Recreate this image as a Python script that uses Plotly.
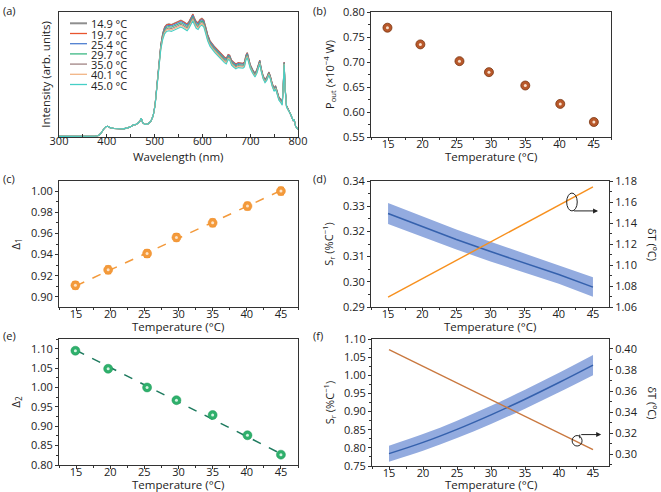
import plotly.graph_objects as go

# ---------------- data ----------------
# (a) emission spectra
wavelength = [300, 320, 340, 360, 375, 383, 388, 393, 398, 402, 407, 415, 425, 435, 445, 452, 456, 460, 465, 469,
              472, 475, 480, 486, 492, 497, 501, 505, 509, 513, 517, 521, 525, 530, 535, 540, 545, 550, 555, 560,
              565, 568, 572, 576, 580, 583, 587, 591, 595, 599, 603, 607, 611, 616, 621, 626, 631, 636, 641, 646,
              650, 654, 657, 661, 665, 670, 675, 680, 685, 688, 691, 694, 697, 700, 705, 710, 714, 717, 720, 723,
              727, 731, 735, 739, 742, 746, 750, 753, 756, 760, 764, 767, 769, 771, 773, 776, 780, 785, 790, 792,
              795, 800]
UV_REGION = [0.005, 0.005, 0.005, 0.005, 0.006, 0.012, 0.030, 0.060, 0.082, 0.086, 0.075, 0.068, 0.064, 0.065,
             0.075, 0.085, 0.100, 0.098, 0.110, 0.125, 0.150, 0.115, 0.100, 0.105, 0.125, 0.170]
NIR_TAIL = [0.180, 0.130, 0.140, 0.085, 0.060]

I_14_9 = UV_REGION + [0.260, 0.420, 0.600, 0.740, 0.830,
                      0.880, 0.900, 0.905, 0.900, 0.910, 0.920, 0.930, 0.935, 0.925, 0.910, 0.905, 0.925, 0.950, 0.985, 0.955, 0.925, 0.915, 0.940, 0.950, 0.935, 0.880,
                      0.820,
                      0.770, 0.740, 0.720, 0.700, 0.680, 0.655, 0.640, 0.630,
                      0.660, 0.655, 0.615, 0.600, 0.585, 0.595, 0.595, 0.590, 0.600, 0.655, 0.675, 0.620,
                      0.580, 0.540, 0.510, 0.540, 0.580, 0.615,
                      0.550, 0.490, 0.460, 0.480, 0.520, 0.490, 0.430, 0.390, 0.410, 0.370, 0.320, 0.300, 0.280,
                      0.400, 0.600, 0.400,
                      0.250, 0.220] + NIR_TAIL
I_19_7 = UV_REGION + [0.259, 0.419, 0.598, 0.738, 0.827,
                      0.877, 0.897, 0.902, 0.897, 0.907, 0.917, 0.927, 0.932, 0.922, 0.907, 0.902, 0.922, 0.947, 0.982, 0.952, 0.922, 0.912, 0.937, 0.947, 0.932, 0.877,
                      0.817,
                      0.768, 0.738, 0.718, 0.698, 0.678, 0.653, 0.638, 0.628,
                      0.658, 0.653, 0.613, 0.598, 0.583, 0.593, 0.593, 0.588, 0.598, 0.653, 0.673, 0.618,
                      0.578, 0.538, 0.508, 0.538, 0.578, 0.613,
                      0.549, 0.489, 0.459, 0.479, 0.519, 0.489, 0.429, 0.389, 0.409, 0.369, 0.319, 0.299, 0.279,
                      0.399, 0.599, 0.399,
                      0.249, 0.219] + NIR_TAIL
I_25_4 = UV_REGION + [0.258, 0.416, 0.594, 0.732, 0.820,
                      0.869, 0.889, 0.894, 0.889, 0.899, 0.909, 0.919, 0.924, 0.914, 0.899, 0.894, 0.914, 0.939, 0.974, 0.944, 0.914, 0.904, 0.929, 0.939, 0.924, 0.869,
                      0.810,
                      0.761, 0.731, 0.711, 0.691, 0.671, 0.646, 0.631, 0.621,
                      0.652, 0.647, 0.607, 0.592, 0.577, 0.587, 0.587, 0.582, 0.592, 0.647, 0.667, 0.612,
                      0.574, 0.534, 0.504, 0.534, 0.574, 0.609,
                      0.545, 0.485, 0.455, 0.475, 0.515, 0.485, 0.425, 0.385, 0.405, 0.365, 0.315, 0.295, 0.275,
                      0.396, 0.596, 0.396,
                      0.248, 0.218] + NIR_TAIL
I_29_7 = UV_REGION + [0.256, 0.412, 0.588, 0.724, 0.810,
                      0.858, 0.878, 0.883, 0.878, 0.888, 0.898, 0.908, 0.913, 0.903, 0.888, 0.883, 0.903, 0.928, 0.963, 0.933, 0.903, 0.893, 0.918, 0.928, 0.913, 0.858,
                      0.800,
                      0.752, 0.722, 0.702, 0.682, 0.662, 0.637, 0.622, 0.612,
                      0.644, 0.639, 0.599, 0.584, 0.569, 0.579, 0.579, 0.574, 0.584, 0.639, 0.659, 0.604,
                      0.568, 0.528, 0.498, 0.528, 0.568, 0.603,
                      0.540, 0.480, 0.450, 0.470, 0.510, 0.480, 0.420, 0.380, 0.400, 0.360, 0.310, 0.290, 0.270,
                      0.392, 0.592, 0.392,
                      0.246, 0.216] + NIR_TAIL
I_35_0 = UV_REGION + [0.254, 0.408, 0.582, 0.716, 0.800,
                      0.847, 0.867, 0.872, 0.867, 0.877, 0.887, 0.897, 0.902, 0.892, 0.877, 0.872, 0.892, 0.917, 0.952, 0.922, 0.892, 0.882, 0.907, 0.917, 0.902, 0.847,
                      0.790,
                      0.743, 0.713, 0.693, 0.673, 0.653, 0.628, 0.613, 0.603,
                      0.636, 0.631, 0.591, 0.576, 0.561, 0.571, 0.571, 0.566, 0.576, 0.631, 0.651, 0.596,
                      0.562, 0.522, 0.492, 0.522, 0.562, 0.597,
                      0.535, 0.475, 0.445, 0.465, 0.505, 0.475, 0.415, 0.375, 0.395, 0.355, 0.305, 0.285, 0.265,
                      0.388, 0.588, 0.388,
                      0.244, 0.214] + NIR_TAIL
I_40_1 = UV_REGION + [0.252, 0.404, 0.576, 0.708, 0.790,
                      0.836, 0.856, 0.861, 0.856, 0.866, 0.876, 0.886, 0.891, 0.881, 0.866, 0.861, 0.881, 0.906, 0.941, 0.911, 0.881, 0.871, 0.896, 0.906, 0.891, 0.836,
                      0.780,
                      0.734, 0.704, 0.684, 0.664, 0.644, 0.619, 0.604, 0.594,
                      0.628, 0.623, 0.583, 0.568, 0.553, 0.563, 0.563, 0.558, 0.568, 0.623, 0.643, 0.588,
                      0.556, 0.516, 0.486, 0.516, 0.556, 0.591,
                      0.530, 0.470, 0.440, 0.460, 0.500, 0.470, 0.410, 0.370, 0.390, 0.350, 0.300, 0.280, 0.260,
                      0.384, 0.584, 0.384,
                      0.242, 0.212] + NIR_TAIL
I_45_0 = UV_REGION + [0.250, 0.400, 0.570, 0.700, 0.780,
                      0.825, 0.845, 0.850, 0.845, 0.855, 0.865, 0.875, 0.880, 0.870, 0.855, 0.850, 0.870, 0.895, 0.930, 0.900, 0.870, 0.860, 0.885, 0.895, 0.880, 0.825,
                      0.770,
                      0.725, 0.695, 0.675, 0.655, 0.635, 0.610, 0.595, 0.585,
                      0.620, 0.615, 0.575, 0.560, 0.545, 0.555, 0.555, 0.550, 0.560, 0.615, 0.635, 0.580,
                      0.550, 0.510, 0.480, 0.510, 0.550, 0.585,
                      0.525, 0.465, 0.435, 0.455, 0.495, 0.465, 0.405, 0.365, 0.385, 0.345, 0.295, 0.275, 0.255,
                      0.380, 0.580, 0.380,
                      0.240, 0.210] + NIR_TAIL

spectra_labels = ["14.9 °C", "19.7 °C", "25.4 °C", "29.7 °C", "35.0 °C", "40.1 °C", "45.0 °C"]
spectra = [I_14_9, I_19_7, I_25_4, I_29_7, I_35_0, I_40_1, I_45_0]
spectra_colors = ["#8e8e8e", "#e8552e", "#4f7fd0", "#3db884", "#a08484", "#f2b585", "#45cfc6"]

# (b), (c), (e) measured points
temperature = [14.9, 19.7, 25.4, 29.7, 35.0, 40.1, 45.0]
p_out = [0.7686, 0.7352, 0.7017, 0.6797, 0.6530, 0.6162, 0.5800]
delta1 = [0.9110, 0.9256, 0.9410, 0.9562, 0.9700, 0.9858, 1.0000]
delta1_err = [0.0035, 0.0035, 0.0035, 0.0035, 0.0035, 0.0035, 0.0035]
delta1_fit_T = [15, 45]
delta1_fit = [0.9105, 1.0005]
delta2 = [1.0948, 1.0483, 1.0000, 0.9672, 0.9290, 0.8767, 0.8267]
delta2_fit_T = [15, 45]
delta2_fit = [1.0960, 0.8290]

# (d), (f) sensitivity curves
T_curve = [15, 20, 25, 30, 35, 40, 45]
sr1 = [0.3271, 0.3218, 0.3168, 0.3120, 0.3074, 0.3029, 0.2979]
sr1_up = [0.3313, 0.3259, 0.3208, 0.3159, 0.3112, 0.3066, 0.3018]
sr1_lo = [0.3229, 0.3177, 0.3128, 0.3081, 0.3036, 0.2992, 0.2941]
dT1_T = [15, 45]
dT1 = [1.0694, 1.1744]

sr2 = [0.784, 0.815, 0.851, 0.891, 0.934, 0.980, 1.028]
sr2_up = [0.806, 0.838, 0.875, 0.916, 0.960, 1.007, 1.056]
sr2_lo = [0.762, 0.792, 0.827, 0.866, 0.908, 0.953, 1.000]
dT2_T = [15, 45]
dT2 = [0.3994, 0.3041]

# ---------------- figure ----------------
W, H = 661, 492
FONT = "Open Sans"
INK = "#222222"
AX = "#333333"
BAND = "#93abdf"


def fx(p):
    return p / W


def fy(p):
    return 1 - p / H


fig = go.Figure()

# (a)
for ys, c in zip(spectra, spectra_colors):
    fig.add_trace(go.Scatter(x=wavelength, y=ys, mode="lines", line=dict(color=c, width=1.1),
                             xaxis="x", yaxis="y", showlegend=False, hoverinfo="skip"))

# (b)
fig.add_trace(go.Scatter(x=temperature, y=p_out, mode="markers", xaxis="x2", yaxis="y2", showlegend=False,
                         marker=dict(size=9, color="#b8582a", line=dict(color="#7a3510", width=0.8))))
fig.add_trace(go.Scatter(x=temperature, y=p_out, mode="markers", xaxis="x2", yaxis="y2", showlegend=False,
                         marker=dict(size=3, color="#f8e0cc")))

# (c)
fig.add_trace(go.Scatter(x=delta1_fit_T, y=delta1_fit, mode="lines", xaxis="x3", yaxis="y3", showlegend=False,
                         line=dict(color="#f39a3c", width=1.5, dash="dash")))
fig.add_trace(go.Scatter(x=temperature, y=delta1, mode="markers", xaxis="x3", yaxis="y3", showlegend=False,
                         error_y=dict(type="data", array=delta1_err, color="#f39a3c", thickness=1.3, width=3),
                         marker=dict(size=9, color="#f39a3c", line=dict(color="#f08a20", width=0.5))))
fig.add_trace(go.Scatter(x=temperature, y=delta1, mode="markers", xaxis="x3", yaxis="y3", showlegend=False,
                         marker=dict(size=3, color="#fde3c6")))

# (d)
fig.add_trace(go.Scatter(x=T_curve, y=sr1_up, mode="lines", line=dict(width=0, color=BAND),
                         xaxis="x4", yaxis="y4", showlegend=False))
fig.add_trace(go.Scatter(x=T_curve, y=sr1_lo, mode="lines", line=dict(width=0, color=BAND),
                         fill="tonexty", fillcolor=BAND, xaxis="x4", yaxis="y4", showlegend=False))
fig.add_trace(go.Scatter(x=T_curve, y=sr1, mode="lines", line=dict(width=1.5, color="#3561ad"),
                         xaxis="x4", yaxis="y4", showlegend=False))
fig.add_trace(go.Scatter(x=dT1_T, y=dT1, mode="lines", line=dict(width=1.4, color="#f7901e"),
                         xaxis="x4", yaxis="y7", showlegend=False))

# (e)
fig.add_trace(go.Scatter(x=delta2_fit_T, y=delta2_fit, mode="lines", xaxis="x5", yaxis="y5", showlegend=False,
                         line=dict(color="#1d7a5e", width=1.5, dash="dash")))
fig.add_trace(go.Scatter(x=temperature, y=delta2, mode="markers", xaxis="x5", yaxis="y5", showlegend=False,
                         marker=dict(size=9, color="#2fb06c", line=dict(color="#1f9a58", width=0.5))))
fig.add_trace(go.Scatter(x=temperature, y=delta2, mode="markers", xaxis="x5", yaxis="y5", showlegend=False,
                         marker=dict(size=3, color="#d6f5e2")))

# (f)
fig.add_trace(go.Scatter(x=T_curve, y=sr2_up, mode="lines", line=dict(width=0, color=BAND, shape="spline"),
                         xaxis="x6", yaxis="y6", showlegend=False))
fig.add_trace(go.Scatter(x=T_curve, y=sr2_lo, mode="lines", line=dict(width=0, color=BAND, shape="spline"),
                         fill="tonexty", fillcolor=BAND, xaxis="x6", yaxis="y6", showlegend=False))
fig.add_trace(go.Scatter(x=T_curve, y=sr2, mode="lines", line=dict(width=1.5, color="#3561ad", shape="spline"),
                         xaxis="x6", yaxis="y6", showlegend=False))
fig.add_trace(go.Scatter(x=dT2_T, y=dT2, mode="lines", line=dict(width=1.4, color="#c9783f"),
                         xaxis="x6", yaxis="y8", showlegend=False))


def title(text, standoff, size=11.5):
    return dict(text=text, standoff=standoff, font=dict(size=size, family=FONT, color=INK))


def minor(dt):
    return dict(dtick=dt, ticks="outside", ticklen=2, tickcolor=AX, showgrid=False)


def axis(**kw):
    base = dict(showline=True, linecolor=AX, linewidth=1, mirror=True, ticks="outside", ticklen=3,
                tickwidth=1, tickcolor=AX, showgrid=False, zeroline=False,
                tickfont=dict(size=11, family=FONT, color=INK), automargin=False)
    base.update(kw)
    return base


def xaxis(**kw):
    return axis(ticklabelstandoff=-6, **kw)


T_range = [12.5, 47.5]

dom_a = [fx(59), fx(298)]
dom_b = [fx(371), fx(611)]
row1 = [fy(137), fy(12)]
row2 = [fy(307), fy(181)]
row3 = [fy(465), fy(339)]
SR = "S<sub>r</sub> (%C<sup>−1</sup>)"

fig.update_layout(
    width=W, height=H, margin=dict(l=0, r=0, t=0, b=0),
    paper_bgcolor="white", plot_bgcolor="white",
    font=dict(family=FONT, size=11, color=INK),
    xaxis=xaxis(domain=dom_a, anchor="y", range=[300, 800], dtick=100, ticks="inside",
                minor=dict(dtick=50, ticks="inside", ticklen=3, tickcolor=AX, showgrid=False)),
    yaxis=axis(domain=row1, anchor="x", range=[0, 1.0], showticklabels=False, ticks="",
               title=title("Intensity (arb. units)", 4)),
    xaxis2=xaxis(domain=dom_b, anchor="y2", range=T_range, dtick=5, tick0=0, minor=minor(2.5)),
    yaxis2=axis(domain=row1, anchor="x2", range=[0.55, 0.80], dtick=0.05, tick0=0.55, tickformat=".2f",
                minor=minor(0.025), title=title("P<sub>out</sub> (×10<sup>−4</sup> W)", 6, 11)),
    xaxis3=xaxis(domain=dom_a, anchor="y3", range=T_range, dtick=5, tick0=0, minor=minor(2.5)),
    yaxis3=axis(domain=row2, anchor="x3", range=[0.8905, 1.0095], dtick=0.02, tick0=0.90, tickformat=".2f",
                minor=minor(0.01), title=title("Δ<sub>1</sub>", 8)),
    xaxis4=xaxis(domain=[fx(371), fx(609)], anchor="y4", range=[12.5, 47.35], dtick=5, tick0=0,
                 minor=minor(2.5)),
    yaxis4=axis(domain=row2, anchor="x4", range=[0.29, 0.34], dtick=0.01, tick0=0.29, tickformat=".2f",
                mirror=False, minor=minor(0.005), title=title(SR, 7, 11)),
    yaxis7=axis(domain=row2, anchor="x4", overlaying="y4", side="right", range=[1.06, 1.18], dtick=0.02,
                tick0=1.06, tickformat=".2f", mirror=False, minor=minor(0.01)),
    xaxis5=xaxis(domain=dom_a, anchor="y5", range=T_range, dtick=5, tick0=0, minor=minor(2.5)),
    yaxis5=axis(domain=row3, anchor="x5", range=[0.80, 1.125], dtick=0.05, tick0=0.80, tickformat=".2f",
                minor=minor(0.025), title=title("Δ<sub>2</sub>", 8)),
    xaxis6=xaxis(domain=[fx(372), fx(609)], anchor="y6", range=[12.5, 47.35], dtick=5, tick0=0,
                 minor=minor(2.5)),
    yaxis6=axis(domain=[fy(466), fy(339)], anchor="x6", range=[0.75, 1.10], dtick=0.05, tick0=0.75,
                tickformat=".2f", mirror=False, minor=minor(0.025), title=title(SR, 7, 11)),
    yaxis8=axis(domain=[fy(466), fy(339)], anchor="x6", overlaying="y6", side="right", range=[0.2886, 0.4095],
                dtick=0.02, tick0=0.30, tickformat=".2f", mirror=False, minor=minor(0.01)),
)

annotations = []
shapes = []

# x-axis titles
for lab, cx, cy in [("Wavelength (nm)", (59 + 298) / 2, 156), ("Temperature (°C)", (371 + 611) / 2, 156),
                    ("Temperature (°C)", (59 + 298) / 2, 326), ("Temperature (°C)", (371 + 609) / 2, 326),
                    ("Temperature (°C)", (59 + 298) / 2, 484.5), ("Temperature (°C)", (372 + 609) / 2, 484.5)]:
    annotations.append(dict(text=lab, xref="paper", yref="paper", x=fx(cx), y=fy(cy), xanchor="center",
                            yanchor="middle", showarrow=False, font=dict(size=11.5, family=FONT, color=INK)))

# manual legend for (a) (tight row spacing as in the original)
for i, (lab, c) in enumerate(zip(spectra_labels, spectra_colors)):
    yy = fy(23.3 + i * 10.2)
    shapes.append(dict(type="line", xref="paper", yref="paper", x0=fx(70), x1=fx(87), y0=yy, y1=yy,
                       line=dict(color=c, width=2 if i == 0 else 1.3)))
    annotations.append(dict(text=lab, xref="paper", yref="paper", x=fx(89), y=yy, xanchor="left",
                            yanchor="middle", showarrow=False, height=10, valign="middle",
                            font=dict(size=11, family=FONT, color=INK)))

# panel letters
for lab, px, py in [("(a)", 1, 1), ("(b)", 311, 1), ("(c)", 1, 169), ("(d)", 311, 169), ("(e)", 1, 326),
                    ("(f)", 311, 326)]:
    annotations.append(dict(text=lab, xref="paper", yref="paper", x=fx(px), y=fy(py), xanchor="left",
                            yanchor="top", showarrow=False, font=dict(size=11, family=FONT, color=INK)))

# right-axis titles
for cy in [(181 + 307) / 2, (339 + 466) / 2]:
    annotations.append(dict(text="δT (ºC)", xref="paper", yref="paper", x=fx(652), y=fy(cy), xanchor="center",
                            yanchor="middle", textangle=90, showarrow=False,
                            font=dict(size=11, family=FONT, color=INK)))

# (d) ellipse + arrow to right axis
shapes.append(dict(type="circle", xref="x4", yref="y7", x0=41.15, x1=42.7, y0=1.1515, y1=1.1685,
                   line=dict(color="#222222", width=1)))
annotations.append(dict(text="", xref="x4", yref="y7", axref="x4", ayref="y7", x=45.75, y=1.1515, ax=42.0,
                        ay=1.1515, showarrow=True, arrowhead=2, arrowsize=1, arrowwidth=1, arrowcolor="#222222"))

# (f) circle + arrow to right axis
shapes.append(dict(type="circle", xref="x6", yref="y8", x0=41.93, x1=43.39, y0=0.3076, y1=0.3176,
                   line=dict(color="#222222", width=1)))
shapes.append(dict(type="line", xref="x6", yref="y8", x0=43.05, x1=43.05, y0=0.3150, y1=0.3185,
                   line=dict(color="#222222", width=1)))
annotations.append(dict(text="", xref="x6", yref="y8", axref="x6", ayref="y8", x=46.2, y=0.3185, ax=43.05,
                        ay=0.3185, showarrow=True, arrowhead=2, arrowsize=1, arrowwidth=1, arrowcolor="#222222"))

fig.update_layout(annotations=annotations, shapes=shapes)
fig.write_html("out.html", config={"displayModeBar": False},
               post_script="document.body.style.margin='0';document.body.style.padding='0';"
                           "document.body.style.overflow='hidden';")
